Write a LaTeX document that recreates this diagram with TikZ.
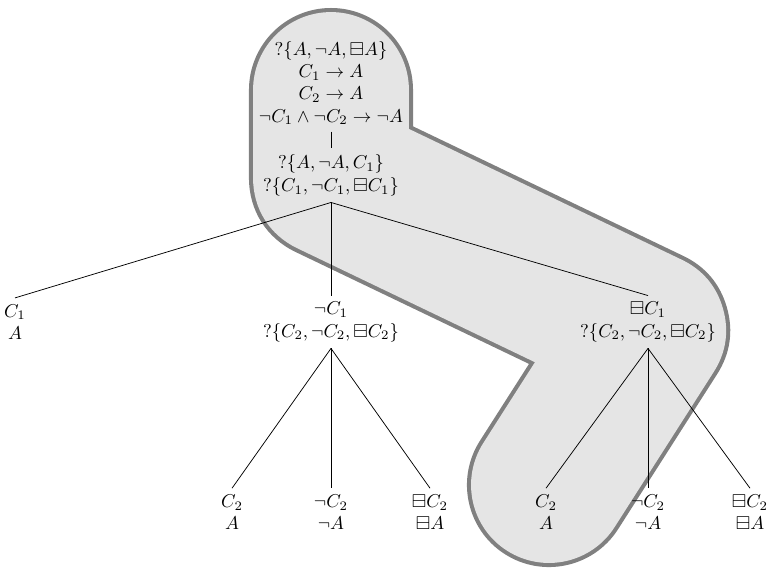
\documentclass[tikz,border=0pt]{standalone}
\usepackage{amsmath, amssymb}
\usepackage{xcolor}
\usepackage{tikz}
\usetikzlibrary{positioning}

\begin{document}
\begin{tikzpicture}[tnode/.style={align=center},
                    tedge/.style={draw, black}]
  \useasboundingbox (0,0) rectangle (14.492,-10.732);

  % highlighted branch
  \coordinate (b0) at (6.254,-1.701);
  \coordinate (b1) at (6.254,-3.363);
  \coordinate (b2) at (12.244,-6.235);
  \coordinate (b3) at (10.373,-9.164);
  \draw[gray, line width=88.2pt, line cap=round, line join=round]
    (b0) -- (b1) -- (b2) -- (b3);
  \draw[gray!20, line width=83.8pt, line cap=round, line join=round]
    (b0) -- (b1) -- (b2) -- (b3);

  % root
  \node[tnode] (root) at (6.254,-1.570)
    {$?\{A,\neg A,\boxminus A\}$\\ $C_1\to A$\\ $C_2\to A$\\
     $\neg C_1\wedge\neg C_2\to\neg A$};
  \node[tnode] (q) at (6.254,-3.315)
    {$?\{A,\neg A,C_1\}$\\ $?\{C_1,\neg C_1,\boxminus C_1\}$};
  \draw[tedge] (root.south) -- (q.north);

  % first level
  \node[tnode] (c1) at (0.283,-6.084) {$C_1$\\ $A$};
  \node[tnode] (nc1) at (6.254,-6.084)
    {$\neg C_1$\\ $?\{C_2,\neg C_2,\boxminus C_2\}$};
  \node[tnode] (bc1) at (12.244,-6.084)
    {$\boxminus C_1$\\ $?\{C_2,\neg C_2,\boxminus C_2\}$};
  \foreach \n in {c1, nc1, bc1}
    \draw[tedge] (q.south) -- (\n.north);

  % leaves
  \foreach \p/\xa/\xb/\xc in {nc1/4.384/6.254/8.125, bc1/10.317/12.244/14.171} {
    \node[tnode] (\p-a) at (\xa,-9.680) {$C_2$\\ $A$};
    \node[tnode] (\p-b) at (\xb,-9.680) {$\neg C_2$\\ $\neg A$};
    \node[tnode] (\p-c) at (\xc,-9.680) {$\boxminus C_2$\\ $\boxminus A$};
    \foreach \l in {a, b, c}
      \draw[tedge] (\p.south) -- (\p-\l.north);
  }
\end{tikzpicture}
\end{document}
